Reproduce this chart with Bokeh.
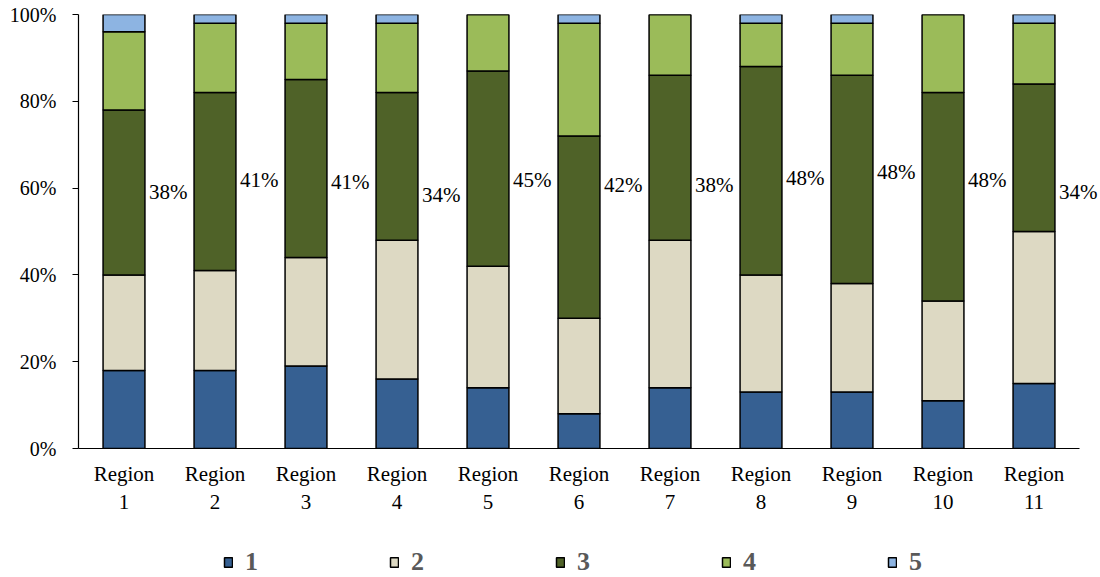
from bokeh.plotting import figure
from bokeh.layouts import column
from bokeh.models import ColumnDataSource, Range1d, Legend, LegendItem, NumeralTickFormatter, FixedTicker
from bokeh.core.properties import value
from bokeh.embed import file_html
from bokeh.resources import INLINE

regions = ["Region\n1", "Region\n2", "Region\n3", "Region\n4", "Region\n5", "Region\n6",
           "Region\n7", "Region\n8", "Region\n9", "Region\n10", "Region\n11"]
s1 = [18, 18, 19, 16, 14, 8, 14, 13, 13, 11, 15]
s2 = [22, 23, 25, 32, 28, 22, 34, 27, 25, 23, 35]
s3 = [38, 41, 41, 34, 45, 42, 38, 48, 48, 48, 34]
s4 = [18, 16, 13, 16, 13, 26, 14, 10, 12, 18, 14]
s5 = [4, 2, 2, 2, 0, 2, 0, 2, 2, 0, 2]
series_names = ["1", "2", "3", "4", "5"]
label_pos = [59, 61.8, 61.3, 58.3, 61.8, 60.6, 60.6, 62.4, 63.6, 61.8, 59]
colors = ["#366092", "#DDD9C3", "#4F6228", "#9BBB59", "#8DB4E2"]

FONT = "Liberation Serif"
n = len(regions)
xpos = [i + 0.5 for i in range(n)]

data = {"x": xpos}
keys = ["s1", "s2", "s3", "s4", "s5"]
for k, vals in zip(keys, [s1, s2, s3, s4, s5]):
    data[k] = [v / 100 for v in vals]
src = ColumnDataSource(data)

p = figure(x_range=Range1d(0, n * 1022 / 1001), y_range=Range1d(0, 1),
           width=1100, height=520, output_backend="svg", toolbar_location=None,
           min_border_left=78, min_border_right=0, min_border_top=14, min_border_bottom=72)
p.outline_line_color = None
p.xgrid.visible = False
p.ygrid.visible = False

rs = p.vbar_stack(keys, x="x", width=0.46, source=src, fill_color=colors,
                  line_color="black", line_width=1.5)

lab_src = ColumnDataSource({"x": xpos, "y": [v / 100 for v in label_pos],
                            "t": [f"{v}%" for v in s3]})
p.text(x="x", y="y", text="t", source=lab_src, x_offset=25, text_align="left",
       text_baseline="middle", text_font=value(FONT), text_font_size="21px",
       text_color="black")

p.yaxis.ticker = FixedTicker(ticks=[0, 0.2, 0.4, 0.6, 0.8, 1.0])
p.yaxis.formatter = NumeralTickFormatter(format="0%")
p.xaxis.ticker = FixedTicker(ticks=xpos)
p.xaxis.major_label_overrides = {x: r for x, r in zip(xpos, regions)}
p.xaxis.bounds = (0, n)
for ax in [p.xaxis[0], p.yaxis[0]]:
    ax.major_label_text_font = FONT
    ax.major_label_text_font_size = "21px"
    ax.major_label_text_color = "black"
    ax.axis_line_color = "black"
    ax.axis_line_width = 1.2
    ax.minor_tick_line_color = None
p.yaxis.major_label_text_font_size = "20px"
p.yaxis.major_tick_in = 0
p.yaxis.major_tick_out = 6
p.yaxis.major_tick_line_color = "black"
p.yaxis.major_label_standoff = 16
p.xaxis.major_tick_line_color = None
p.xaxis.major_label_standoff = 7
p.xaxis.major_label_orientation = "horizontal"
p.xaxis.major_label_text_align = "center"

# legend row
lf = figure(width=1100, height=57, x_range=Range1d(0, 1), y_range=Range1d(0, 1),
            x_axis_type=None, y_axis_type=None, output_backend="svg", toolbar_location=None,
            min_border=0)
lf.outline_line_color = None
lf.xgrid.visible = False
lf.ygrid.visible = False
dummies = [lf.vbar(x="x", top=k, width=0.1, source=src, fill_color=c, line_color="black",
                   line_width=1.5, visible=False) for k, c in zip(keys, colors)]
legend = Legend(items=[LegendItem(label=s, renderers=[r]) for s, r in zip(series_names, dummies)],
                orientation="horizontal", location=(145, 0))
legend.label_text_font = FONT
legend.label_text_font_size = "26px"
legend.label_text_font_style = "bold"
legend.label_text_color = "#595959"
legend.glyph_width = 10
legend.glyph_height = 12
legend.label_standoff = 12
legend.spacing = 124
legend.border_line_color = None
legend.background_fill_alpha = 0
legend.margin = 0
legend.padding = 0
lf.add_layout(legend, "center")

open("out.html", "w").write(file_html(column(p, lf, spacing=0), INLINE))
